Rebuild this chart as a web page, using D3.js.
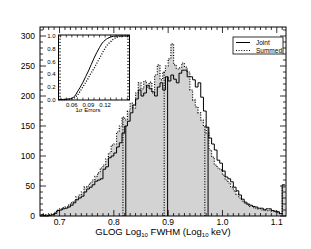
<!DOCTYPE html>
<html>
<head>
<meta charset="utf-8">
<script src="https://cdn.jsdelivr.net/npm/d3@7"></script>
<style>
body { margin: 0; background: #fff; }
text { font-family: "Liberation Sans", Arial, sans-serif; fill: #000; }
</style>
</head>
<body>
<script>
// histogram bins (Log10 FWHM), width 0.005 starting at 0.665
var binStart = 0.665, binWidth = 0.005;
var jointCounts = [2,1,0,1,2,4,9,10,12,13,15,18,22,27,30,33,40,45,48,52,
  58,60,62,78,82,97,100,105,115,122,138,150,158,172,185,195,210,200,205,218,
  212,207,200,215,222,210,232,225,235,228,222,238,243,243,232,232,227,215,222,198,
  175,148,130,120,110,93,88,75,65,62,57,48,42,35,28,23,20,18,16,15,
  13,13,10,12,12,9,8,7,4,52];
var summedCounts = [1,2,1,2,3,6,10,12,14,15,18,22,25,32,35,40,48,50,55,60,
  66,72,80,85,95,105,118,120,140,150,165,160,175,188,180,205,222,212,225,215,
  223,205,235,252,227,240,250,262,287,252,245,247,255,248,240,210,193,182,172,160,
  150,138,110,98,85,80,77,68,60,55,48,42,36,30,25,21,18,16,14,13,
  12,10,11,9,10,8,7,6,4,48];
var quantJoint = [0.822, 0.899, 0.9735];
var quantSummed = [0.8167, 0.8927, 0.9675];
var xTicks = [0.7, 0.8, 0.9, 1.0, 1.1];
var yTicks = [0, 50, 100, 150, 200, 250, 300];

// inset: cumulative distribution of 1-sigma errors
var errX = [0.036,0.045,0.05,0.055,0.06,0.065,0.07,0.075,0.08,0.085,0.09,0.095,0.1,
  0.105,0.11,0.115,0.12,0.125,0.13,0.135,0.14,0.145,0.15,0.155,0.164];
var cdfJoint = [0,0,0.005,0.01,0.02,0.05,0.12,0.19,0.27,0.36,0.45,0.55,0.65,
  0.74,0.82,0.89,0.935,0.965,0.985,0.995,1,1,1,1,1];
var cdfSummed = [0,0,0,0.005,0.01,0.03,0.07,0.13,0.2,0.27,0.34,0.42,0.49,
  0.57,0.65,0.73,0.81,0.87,0.91,0.95,0.975,0.99,0.997,1,1];
var insetXTicks = [0.06, 0.09, 0.12];
var insetYTicks = [0, 0.2, 0.4, 0.6, 0.8, 1.0];

var svg = d3.select("body").append("svg")
    .attr("width", 311)
    .attr("height", 249);

var x = d3.scaleLinear().domain([0.664, 1.117]).range([40, 286]);
var y = d3.scaleLinear().domain([0, 315]).range([216, 27]);

function stepData(counts) {
    var pts = counts.map(function(c, i) { return [binStart + i * binWidth, c]; });
    pts.push([binStart + counts.length * binWidth, counts[counts.length - 1]]);
    return pts;
}
function heightAt(counts, v) {
    var i = Math.floor((v - binStart) / binWidth);
    return counts[Math.max(0, Math.min(counts.length - 1, i))];
}

var area = d3.area().curve(d3.curveStepAfter)
    .x(function(d) { return x(d[0]); })
    .y0(y(0))
    .y1(function(d) { return y(d[1]); });
var line = d3.line().curve(d3.curveStepAfter)
    .x(function(d) { return x(d[0]); })
    .y(function(d) { return y(d[1]); });

svg.append("path")
    .attr("d", area(stepData(summedCounts)))
    .attr("fill", "#d3d3d3");

svg.append("path")
    .attr("d", line(stepData(jointCounts)))
    .attr("fill", "none")
    .attr("stroke", "#000")
    .attr("stroke-width", 1);

svg.append("path")
    .attr("d", line(stepData(summedCounts)))
    .attr("fill", "none")
    .attr("stroke", "#000")
    .attr("stroke-width", 1.2)
    .attr("stroke-dasharray", "1,1.6");

// quantile markers
svg.selectAll(".qj").data(quantJoint).enter().append("line")
    .attr("x1", function(d) { return x(d); })
    .attr("x2", function(d) { return x(d); })
    .attr("y1", y(0))
    .attr("y2", function(d) { return y(heightAt(jointCounts, d)); })
    .attr("stroke", "#000")
    .attr("stroke-width", 1);
svg.selectAll(".qs").data(quantSummed).enter().append("line")
    .attr("x1", function(d) { return x(d); })
    .attr("x2", function(d) { return x(d); })
    .attr("y1", y(0))
    .attr("y2", function(d) { return y(heightAt(summedCounts, d)); })
    .attr("stroke", "#000")
    .attr("stroke-width", 1.2)
    .attr("stroke-dasharray", "1,1.6");

// frame + ticks
svg.append("rect")
    .attr("x", 40).attr("y", 27).attr("width", 246).attr("height", 189)
    .attr("fill", "none").attr("stroke", "#000").attr("stroke-width", 1);

var xMinor = d3.range(67, 112).map(function(d) { return d / 100; });
var yMinor = d3.range(0, 320, 10);

svg.append("g").selectAll("line").data(xMinor).enter().append("line")
    .attr("x1", function(d) { return x(d); }).attr("x2", function(d) { return x(d); })
    .attr("y1", 216).attr("y2", function(d) { return Math.abs(d * 10 - Math.round(d * 10)) < 1e-6 ? 210 : 213; })
    .attr("stroke", "#000").attr("stroke-width", 0.8);
svg.append("g").selectAll("line").data(xMinor).enter().append("line")
    .attr("x1", function(d) { return x(d); }).attr("x2", function(d) { return x(d); })
    .attr("y1", 27).attr("y2", function(d) { return Math.abs(d * 10 - Math.round(d * 10)) < 1e-6 ? 33 : 30; })
    .attr("stroke", "#000").attr("stroke-width", 0.8);
svg.append("g").selectAll("line").data(yMinor).enter().append("line")
    .attr("y1", function(d) { return y(d); }).attr("y2", function(d) { return y(d); })
    .attr("x1", 40).attr("x2", function(d) { return d % 50 === 0 ? 46 : 43; })
    .attr("stroke", "#000").attr("stroke-width", 0.8);
svg.append("g").selectAll("line").data(yMinor).enter().append("line")
    .attr("y1", function(d) { return y(d); }).attr("y2", function(d) { return y(d); })
    .attr("x1", 286).attr("x2", function(d) { return d % 50 === 0 ? 280 : 283; })
    .attr("stroke", "#000").attr("stroke-width", 0.8);

svg.append("g").selectAll("text").data(xTicks).enter().append("text")
    .attr("x", function(d) { return x(d); })
    .attr("y", 225)
    .attr("text-anchor", "middle")
    .attr("font-size", 8.5)
    .text(function(d) { return d.toFixed(1); });
svg.append("g").selectAll("text").data(yTicks).enter().append("text")
    .attr("x", 35)
    .attr("y", function(d) { return y(d) + 3; })
    .attr("text-anchor", "end")
    .attr("font-size", 8.5)
    .text(function(d) { return d; });

var xl = svg.append("text")
    .attr("x", 163).attr("y", 235)
    .attr("text-anchor", "middle")
    .attr("font-size", 9.5);
xl.append("tspan").text("GLOG Log");
xl.append("tspan").attr("font-size", 6).attr("dy", 2).text("10");
xl.append("tspan").attr("dy", -2).text(" FWHM (Log");
xl.append("tspan").attr("font-size", 6).attr("dy", 2).text("10");
xl.append("tspan").attr("dy", -2).text(" keV)");

// legend
var lg = svg.append("g");
lg.append("rect").attr("x", 233).attr("y", 37).attr("width", 50).attr("height", 17)
    .attr("fill", "#fff").attr("stroke", "#000").attr("stroke-width", 0.8);
lg.append("line").attr("x1", 236).attr("x2", 250).attr("y1", 42.5).attr("y2", 42.5)
    .attr("stroke", "#000");
lg.append("line").attr("x1", 236).attr("x2", 250).attr("y1", 50.5).attr("y2", 50.5)
    .attr("stroke", "#000").attr("stroke-width", 1.2).attr("stroke-dasharray", "1,1.6");
lg.append("text").attr("x", 256).attr("y", 45).attr("font-size", 6.5).text("Joint");
lg.append("text").attr("x", 256).attr("y", 53).attr("font-size", 6.5).text("Summed");

// inset
var ix = d3.scaleLinear().domain([0.036, 0.164]).range([58.5, 129.5]);
var iy = d3.scaleLinear().domain([0, 1]).range([99.5, 36]);
var inset = svg.append("g");
inset.append("rect").attr("x", 58.5).attr("y", 35).attr("width", 71).attr("height", 65)
    .attr("fill", "#fff").attr("stroke", "#000").attr("stroke-width", 1);

var ixMinor = d3.range(4, 17).map(function(d) { return d / 100; });
var iyMinor = d3.range(0, 21).map(function(d) { return d * 0.05; });
inset.append("g").selectAll("line").data(ixMinor).enter().append("line")
    .attr("x1", function(d) { return ix(d); }).attr("x2", function(d) { return ix(d); })
    .attr("y1", 100).attr("y2", 97.5).attr("stroke", "#000").attr("stroke-width", 0.7);
inset.append("g").selectAll("line").data(ixMinor).enter().append("line")
    .attr("x1", function(d) { return ix(d); }).attr("x2", function(d) { return ix(d); })
    .attr("y1", 35).attr("y2", 37.5).attr("stroke", "#000").attr("stroke-width", 0.7);
inset.append("g").selectAll("line").data(iyMinor).enter().append("line")
    .attr("y1", function(d) { return iy(d); }).attr("y2", function(d) { return iy(d); })
    .attr("x1", 58.5).attr("x2", 61).attr("stroke", "#000").attr("stroke-width", 0.7);
inset.append("g").selectAll("line").data(iyMinor).enter().append("line")
    .attr("y1", function(d) { return iy(d); }).attr("y2", function(d) { return iy(d); })
    .attr("x1", 129.5).attr("x2", 127).attr("stroke", "#000").attr("stroke-width", 0.7);

var cdfLine = d3.line().curve(d3.curveMonotoneX)
    .x(function(d) { return ix(d[0]); })
    .y(function(d) { return iy(d[1]); });
inset.append("path")
    .attr("d", cdfLine(d3.zip(errX, cdfJoint)))
    .attr("fill", "none").attr("stroke", "#000").attr("stroke-width", 1);
inset.append("path")
    .attr("d", cdfLine(d3.zip(errX, cdfSummed)))
    .attr("fill", "none").attr("stroke", "#000").attr("stroke-width", 1.3)
    .attr("stroke-dasharray", "1,1.6");

inset.append("g").selectAll("text").data(insetYTicks).enter().append("text")
    .attr("x", 55.5).attr("y", function(d) { return iy(d) + 2.2; })
    .attr("text-anchor", "end").attr("font-size", 6)
    .text(function(d) { return d.toFixed(1); });
inset.append("g").selectAll("text").data(insetXTicks).enter().append("text")
    .attr("x", function(d) { return ix(d); }).attr("y", 106.5)
    .attr("text-anchor", "middle").attr("font-size", 6)
    .text(function(d) { return d.toFixed(2); });
inset.append("text").attr("x", 88).attr("y", 112)
    .attr("text-anchor", "middle").attr("font-size", 6)
    .text("1σ Errors");
</script>
</body>
</html>
